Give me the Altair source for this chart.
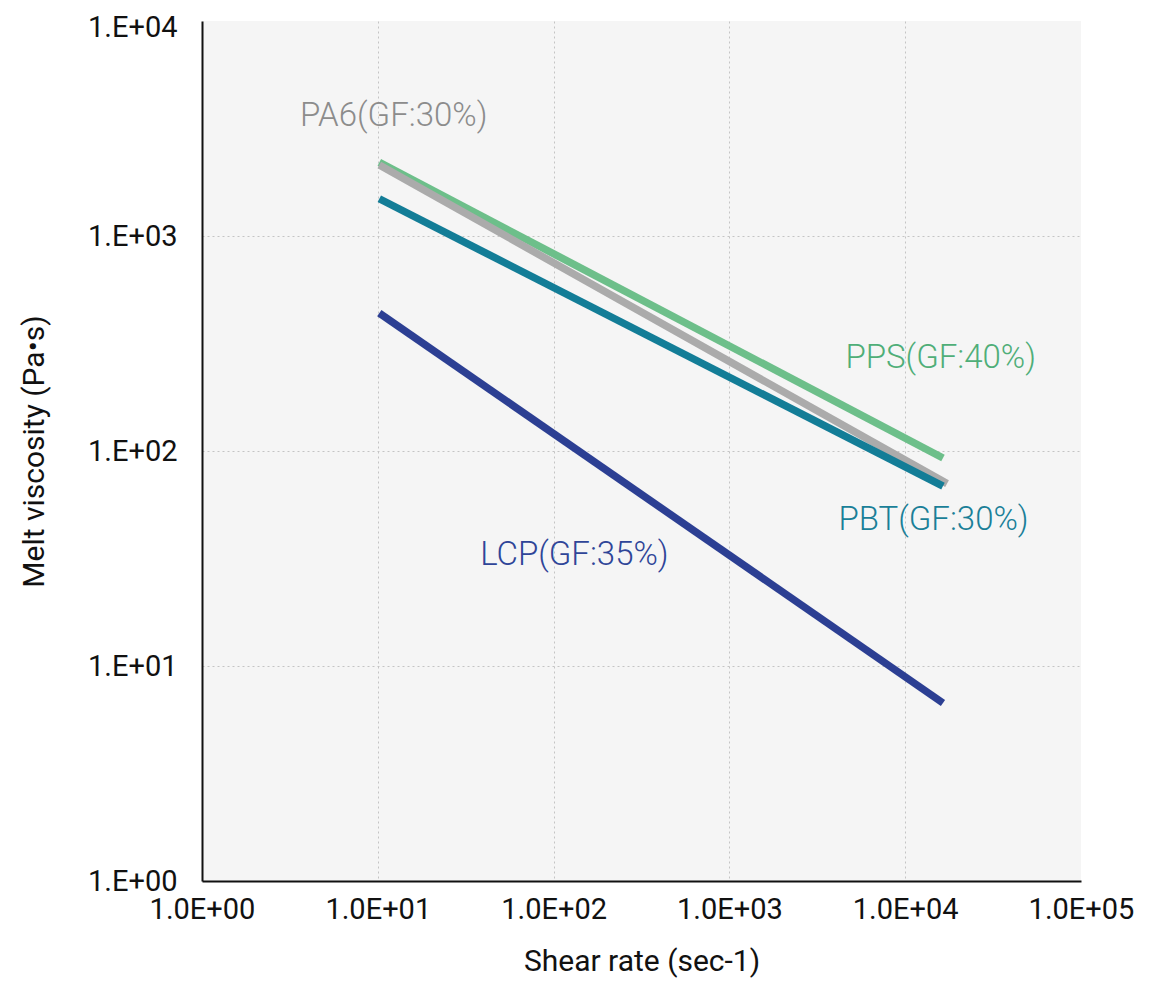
import altair as alt
import pandas as pd

# Series data (shear rate [1/s], melt viscosity [Pa·s])
series = ["PPS(GF:40%)", "PA6(GF:30%)", "PBT(GF:30%)", "LCP(GF:35%)"]
x_start = [10.2, 10.2, 10.2, 10.2]
x_end = [16400, 17300, 16400, 16400]
y_start = [2200, 2140, 1490, 438]
y_end = [92.8, 70.5, 68.7, 6.73]
line_colors = ["#6dbf8a", "#ababab", "#137d97", "#2c3f93"]

# Label anchors (data coordinates) and colours
label_text = ["PA6(GF:30%)", "PPS(GF:40%)", "PBT(GF:30%)", "LCP(GF:35%)"]
label_x = [3.61, 4570, 4170, 38.2]
label_y = [3614, 271, 47.8, 32.8]
label_colors = ["#8c8c8c", "#4fae78", "#1a7f98", "#2f4598"]

x_ticks = [1, 10, 100, 1000, 10000, 100000]
y_ticks = [1, 10, 100, 1000, 10000]

rows = []
for i, s in enumerate(series):
    rows.append({"series": s, "x": x_start[i], "y": y_start[i], "o": 0})
    rows.append({"series": s, "x": x_end[i], "y": y_end[i], "o": 1})
df = pd.DataFrame(rows)

labels = pd.DataFrame({"text": label_text, "x": label_x, "y": label_y, "c": label_colors})

tick_font = "Roboto"

xscale = alt.Scale(type="log", domain=[1, 100000], nice=False)
yscale = alt.Scale(type="log", domain=[1, 10000], nice=False)

xaxis = alt.Axis(
    values=x_ticks,
    title="Shear rate (sec-1)",
    labelExpr="'1.0E+0' + round(log(datum.value)/LN10)",
    ticks=False,
    labelPadding=14,
    labelFontSize=29,
    labelFont=tick_font,
    labelColor="#111111",
    labelFlush=False,
    labelOverlap=False,
    titleFontSize=30,
    titleFont=tick_font,
    titleFontWeight="normal",
    titleColor="#111111",
    titlePadding=22,
    domainColor="#111111",
    domainWidth=2,
    grid=True,
    gridColor="#c4c4c4",
    gridDash=[2, 3],
    gridWidth=1,
    gridOpacity={"condition": {"test": "datum.value < 2 || datum.value > 50000", "value": 0}, "value": 1},
)
yaxis = alt.Axis(
    values=y_ticks,
    title="Melt viscosity (Pa•s)",
    labelExpr="'1.E+0' + round(log(datum.value)/LN10)",
    ticks=False,
    labelPadding=25,
    labelFontSize=29,
    labelFont=tick_font,
    labelColor="#111111",
    labelFlush=False,
    labelOverlap=False,
    labelOffset={"condition": {"test": "datum.value > 5000", "value": 6}, "value": 0},
    titleFontSize=30,
    titleFont=tick_font,
    titleFontWeight="normal",
    titleColor="#111111",
    titlePadding=38,
    domainColor="#111111",
    domainWidth=2,
    grid=True,
    gridColor="#c4c4c4",
    gridDash=[2, 3],
    gridWidth=1,
    gridOpacity={"condition": {"test": "datum.value < 2 || datum.value > 5000", "value": 0}, "value": 1},
)

enc_x = alt.X("x:Q", scale=xscale, axis=xaxis)
enc_y = alt.Y("y:Q", scale=yscale, axis=yaxis)

layers = []
for i, s in enumerate(series):
    layers.append(
        alt.Chart(df)
        .transform_filter(alt.datum.series == s)
        .mark_line(color=line_colors[i], strokeWidth=7.5, strokeCap="butt")
        .encode(x=enc_x, y=enc_y, order="o:Q")
    )

text = (
    alt.Chart(labels)
    .mark_text(align="left", baseline="middle", fontSize=33, font="Roboto", fontWeight=300)
    .encode(
        x=enc_x,
        y=enc_y,
        text="text:N",
        color=alt.Color("c:N", scale=None),
    )
)

chart = (
    alt.layer(*layers, text)
    .properties(
        width=879,
        height=860,
        autosize=alt.AutoSizeParams(type="none"),
        padding={"left": 194, "top": 13, "right": 70, "bottom": 100},
        background="white",
    )
    .configure_view(fill="#f5f5f5", stroke=None)
)

chart.save("out.html", embed_options={"renderer": "svg", "actions": False})
